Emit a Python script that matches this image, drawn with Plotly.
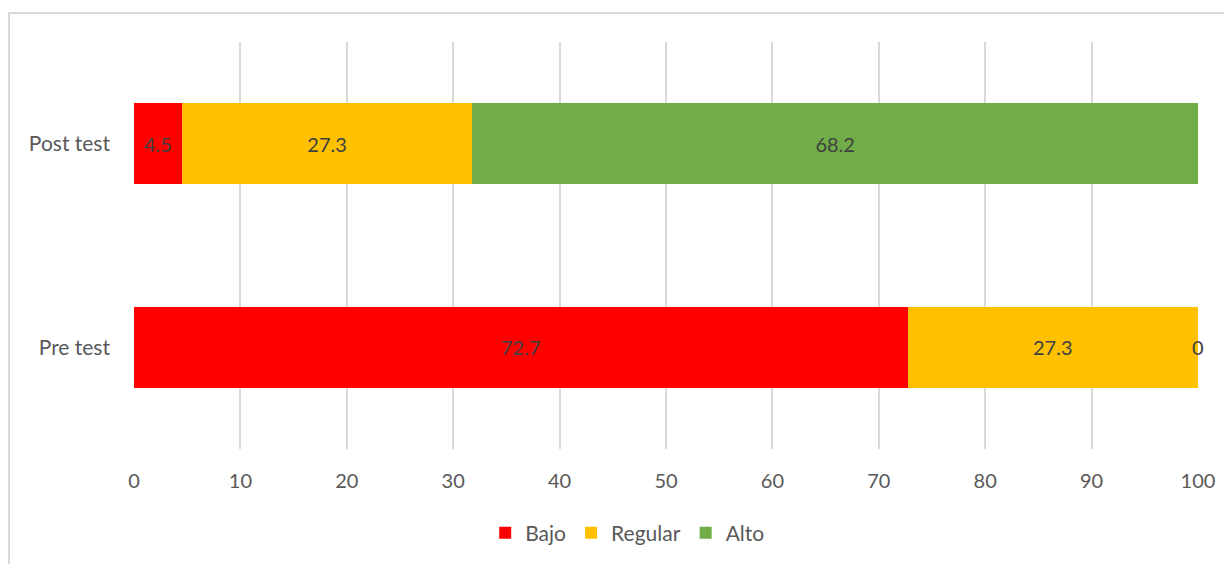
import plotly.graph_objects as go

categories = ["Pre test", "Post test"]
bajo = [72.7, 4.5]
regular = [27.3, 27.3]
alto = [0, 68.2]
series_names = ["Bajo", "Regular", "Alto"]
colors = ["#FF0000", "#FFC000", "#70AD47"]
x_ticks = [0, 10, 20, 30, 40, 50, 60, 70, 80, 90, 100]

OFF = 8  # browser body margin
W, H = 1232 - OFF, 564 - OFF
ml, mt = 134 - OFF, 42 - OFF
plot_right, plot_bottom = 1198 - OFF, 449 - OFF
mr, mb = W - plot_right, H - plot_bottom
pw = W - ml - mr
ph = H - mt - mb

FONT = "Lato, 'Open Sans', sans-serif"

fig = go.Figure()
series = [bajo, regular, alto]
annotations = []
for name, vals, col in zip(series_names, series, colors):
    fig.add_trace(go.Bar(
        y=categories, x=vals, name=name, orientation="h",
        marker=dict(color=col, line=dict(width=0)),
        text=[f"{v:g}" if v != 0 else "" for v in vals],
        textposition="inside", insidetextanchor="middle",
        textfont=dict(family=FONT, size=20, color="#404040"),
        constraintext="none",
    ))

# labels for zero-width segments placed at their stacked position
cum = [0.0] * len(categories)
for vals in series:
    for i, v in enumerate(vals):
        if v == 0:
            annotations.append(dict(x=cum[i], y=categories[i], xref="x", yref="y",
                                    text=f"{v:g}", showarrow=False,
                                    font=dict(family=FONT, size=20, color="#404040")))
        cum[i] += v

# chart border (page coords: left 8.5, top 13)
left_px, top_px = 8.5 - OFF + 0.5, 13 - OFF
shapes = [dict(type="rect", xref="paper", yref="paper",
               x0=(left_px - ml) / pw, x1=(W + 20 - ml) / pw,
               y0=-(mb + 20) / ph, y1=(plot_bottom - top_px) / ph,
               line=dict(color="#D9D9D9", width=2), fillcolor="rgba(0,0,0,0)",
               layer="below")]

legend_center_px = 533 - OFF

fig.update_layout(
    barmode="stack",
    bargap=0.6,
    width=W, height=H,
    margin=dict(l=ml, r=mr, t=mt, b=mb, pad=0, autoexpand=False),
    paper_bgcolor="white", plot_bgcolor="white",
    font=dict(family=FONT, size=20, color="#595959"),
    xaxis=dict(range=[0, 100], tickvals=x_ticks, showgrid=True,
               gridcolor="#D9D9D9", gridwidth=1.5, zeroline=False,
               showline=False, ticks="", ticklabelstandoff=18, automargin=False,
               tickfont=dict(family=FONT, size=20, color="#595959")),
    yaxis=dict(showgrid=False, zeroline=False, showline=False, ticks="",
               ticklabelstandoff=23, automargin=False,
               tickfont=dict(family=FONT, size=21, color="#595959")),
    legend=dict(orientation="h", x=0.464, xanchor="center",
                yref="container", y=1 - legend_center_px / H, yanchor="middle",
                font=dict(family=FONT, size=21, color="#595959"),
                itemwidth=30, traceorder="normal"),
    shapes=shapes,
    annotations=annotations,
    uniformtext=dict(mode=False),
)

fig.write_html("out.html")
